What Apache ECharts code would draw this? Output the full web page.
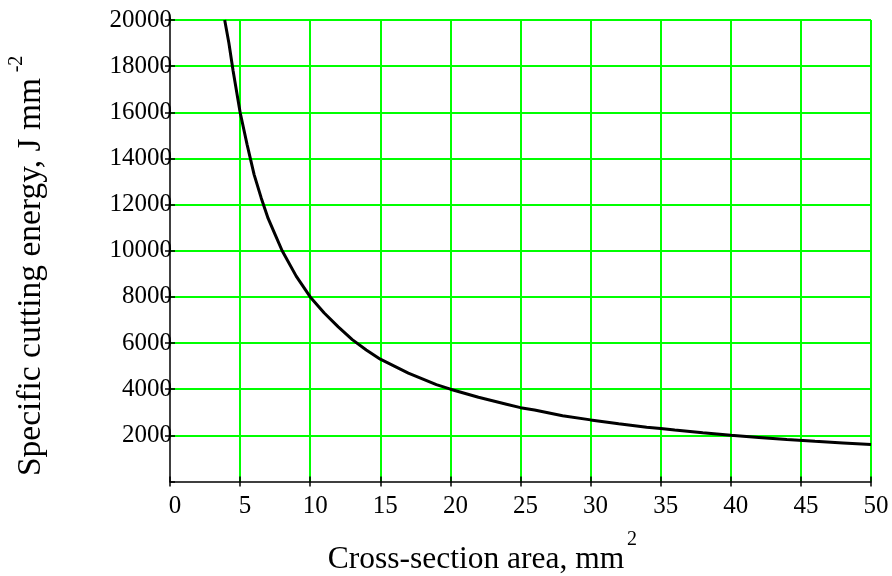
<!DOCTYPE html>
<html>
<head>
<meta charset="UTF-8">
<title>Specific cutting energy</title>
<script type="text/javascript" src="https://cdn.jsdelivr.net/npm/echarts@6/dist/echarts.min.js"></script>
<style>
  html, body { margin: 0; padding: 0; background: #fff; }
  #chart { width: 892px; height: 576px; }
</style>
</head>
<body>
<div id="chart"></div>
<script type="text/javascript">
// cross-section area (mm^2) and specific cutting energy (J/mm^2)
var areaData = [3.9, 4.2, 4.5, 5, 5.5, 6, 6.5, 7, 7.5, 8, 9, 10, 11, 12, 13, 14, 15, 16, 17, 18, 19, 20,
                22, 24, 25, 26, 28, 30, 32, 34, 35, 36, 38, 40, 42, 44, 46, 48, 50];
var energyData = [20000, 19000, 17800, 16000, 14600, 13300, 12300, 11400, 10700, 10000, 8900, 8000,
                  7300, 6700, 6150, 5700, 5300, 5000, 4700, 4450, 4200, 4000,
                  3650, 3350, 3200, 3100, 2850, 2670, 2500, 2350, 2300, 2230, 2110, 2000, 1910, 1820, 1740, 1670, 1600];
var xTicks = { min: 0, max: 50, step: 5 };
var yTicks = { min: 0, max: 20000, step: 2000 };

var font = 'Liberation Serif';
var green = '#00ff00';

var chart = echarts.init(document.getElementById('chart'));

var points = [];
for (var i = 0; i < areaData.length; i++) {
    points.push([areaData[i], energyData[i]]);
}

var option = {
    backgroundColor: '#fff',
    animation: false,
    grid: { left: 170, right: 21, top: 20, bottom: 94.5 },
    xAxis: [{
        type: 'value',
        min: xTicks.min, max: xTicks.max, interval: xTicks.step,
        axisLine: { lineStyle: { color: '#000', width: 1.5 } },
        axisTick: { length: 5, lineStyle: { color: '#000', width: 1.5 } },
        axisLabel: { color: '#000', fontFamily: font, fontSize: 25, margin: 12, padding: [0, 0, 0, 10] },
        splitLine: { show: true, showMinLine: false, lineStyle: { color: green, width: 2 } }
    }, {
        type: 'value', position: 'bottom',
        min: xTicks.min, max: xTicks.max, interval: xTicks.step,
        axisLine: { show: false },
        axisTick: { inside: true, length: 5, lineStyle: { color: '#000', width: 1.5 } },
        axisLabel: { show: false },
        splitLine: { show: false }
    }],
    yAxis: [{
        type: 'value',
        min: yTicks.min, max: yTicks.max, interval: yTicks.step,
        axisLine: { show: true, lineStyle: { color: '#000', width: 1.5 } },
        axisTick: { show: true, length: 5, lineStyle: { color: '#000', width: 1.5 } },
        axisLabel: {
            color: '#000', fontFamily: font, fontSize: 25, margin: -2, showMinLabel: false,
            padding: [8, 0, 0, 0],
            formatter: function (v) { return String(v); }
        },
        splitLine: { show: true, showMinLine: false, lineStyle: { color: green, width: 2 } }
    }, {
        type: 'value', position: 'left',
        min: yTicks.min, max: yTicks.max, interval: yTicks.step,
        axisLine: { show: false },
        axisTick: { show: true, inside: true, length: 5, lineStyle: { color: '#000', width: 1.5 } },
        axisLabel: { show: false },
        splitLine: { show: false }
    }],
    graphic: [
        { type: 'text', x: 476, y: 560,
          style: { text: 'Cross-section area, mm', fontFamily: font, fontSize: 31.5, fill: '#000', align: 'center', verticalAlign: 'middle' } },
        { type: 'text', x: 632, y: 540,
          style: { text: '2', fontFamily: font, fontSize: 20, fill: '#000', align: 'center', verticalAlign: 'middle' } },
        { type: 'text', x: 31, y: 277, rotation: Math.PI / 2,
          style: { text: 'Specific cutting energy, J mm', fontFamily: font, fontSize: 33.5, fill: '#000', align: 'center', verticalAlign: 'middle' } },
        { type: 'text', x: 17, y: 64, rotation: Math.PI / 2,
          style: { text: '-2', fontFamily: font, fontSize: 20, fill: '#000', align: 'center', verticalAlign: 'middle' } }
    ],
    series: [{
        type: 'line',
        data: points,
        showSymbol: false,
        clip: true,
        lineStyle: { color: '#000', width: 3 },
        z: 5
    }]
};

chart.setOption(option);
</script>
</body>
</html>
